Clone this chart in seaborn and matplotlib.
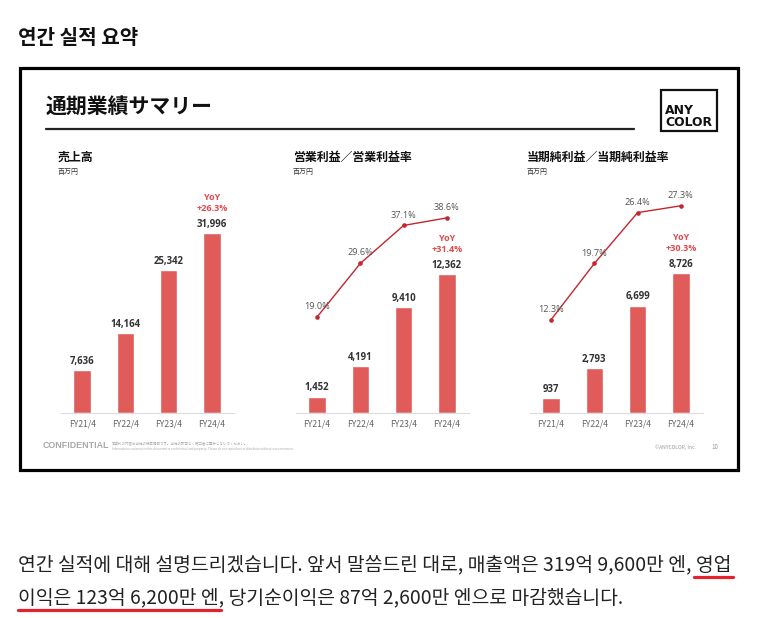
import numpy as np
import pandas as pd
import matplotlib
matplotlib.use("Agg")
import matplotlib.pyplot as plt
from matplotlib.patches import Rectangle
from matplotlib.lines import Line2D
import seaborn as sns

# ---------------- data ----------------
periods = ["FY21/4", "FY22/4", "FY23/4", "FY24/4"]
revenue = [7636, 14164, 25342, 31996]
operating_profit = [1452, 4191, 9410, 12362]
operating_margin = [19.0, 29.6, 37.1, 38.6]
net_profit = [937, 2793, 6699, 8726]
net_margin = [12.3, 19.7, 26.4, 27.3]
yoy_growth = [26.3, 31.4, 30.3]
panel_titles = ["売上高", "営業利益／営業利益率", "当期純利益／当期純利益率"]
unit_label = "百万円"
page_heading = "연간 실적 요약"
slide_title = "通期業績サマリー"
para_line1 = "연간 실적에 대해 설명드리겠습니다. 앞서 말씀드린 대로, 매출액은 319억 9,600만 엔, 영업"
para_line2 = "이익은 123억 6,200만 엔, 당기순이익은 87억 2,600만 엔으로 마감했습니다."
underline2_text = "이익은 123억 6,200만 엔"
underline1_text = "영업"

# ---------------- style ----------------
W, H = 778, 618
BAR = "#E05C5A"
LINE = "#C4262E"
YOY = "#E0484C"
JP = ["Noto Sans CJK JP", "DejaVu Sans"]
KR = ["Noto Sans CJK KR", "DejaVu Sans"]
NUM = ["Open Sans", "DejaVu Sans"]

sns.set_theme(style="white")
plt.rcParams["font.family"] = JP

fig = plt.figure(figsize=(W / 100, H / 100), dpi=100)
fig.patch.set_facecolor("white")


def fx(px):
    return px / W


def fy(py):
    return 1 - py / H


renderer = fig.canvas.get_renderer()


def text_width(s, size, **kw):
    t = fig.text(0, 0, s, fontsize=size, **kw)
    w = t.get_window_extent(renderer).width
    t.remove()
    return w


# page heading
fig.text(fx(18), fy(38), page_heading, family=KR, weight="bold",
         fontsize=14.5, va="center", ha="left", color="#111")

# slide frame
fig.patches.append(Rectangle((fx(20), fy(470)), fx(718), (470 - 68) / H,
                             transform=fig.transFigure, fill=False,
                             edgecolor="#000", linewidth=2.3))

fig.text(fx(46), fy(106), slide_title, weight="bold", fontsize=15,
         va="center", ha="left", color="#111")
fig.lines.append(Line2D([fx(46), fx(634)], [fy(129), fy(129)],
                        transform=fig.transFigure, color="#222", lw=1.6))

# logo
fig.patches.append(Rectangle((fx(661), fy(131.5)), fx(56), (131.5 - 90) / H,
                             transform=fig.transFigure, fill=False,
                             edgecolor="#111", linewidth=1.6))
fig.text(fx(665), fy(116.5), "ANY\nCOLOR", family=["DejaVu Sans"],
         weight="bold", fontsize=8.9, va="center", ha="left",
         linespacing=0.95, color="#111")

# ---------------- panels ----------------
panels = [
    dict(left=60.5, vals=revenue, ymax=40884, rate=None, rmax=None,
         title_x=58),
    dict(left=295.5, vals=operating_profit, ymax=20455,
         rate=operating_margin, rmax=45.5, title_x=293),
    dict(left=529.5, vals=net_profit, ymax=14336,
         rate=net_margin, rmax=30.3, title_x=527),
]

base_y = 413
ax_h = 230
ax_w = 173

for i, p in enumerate(panels):
    fig.text(fx(p["title_x"]), fy(157), panel_titles[i], weight="bold",
             fontsize=8.6, va="center", ha="left", color="#111")
    fig.text(fx(p["title_x"]), fy(172), unit_label, fontsize=5,
             va="center", ha="left", color="#333")

    ax = fig.add_axes([fx(p["left"]), fy(base_y), ax_w / W, ax_h / H])
    df = pd.DataFrame({"period": periods, "value": p["vals"]})
    sns.barplot(data=df, x="period", y="value", color=BAR, width=0.4,
                saturation=1, ax=ax)
    ax.set_xlim(-0.5, 3.5)
    ax.set_ylim(0, p["ymax"])
    ax.set_xlabel("")
    ax.set_ylabel("")
    ax.set_yticks([])
    for s in ["top", "right", "left"]:
        ax.spines[s].set_visible(False)
    ax.spines["bottom"].set_color("#dcdcdc")
    ax.spines["bottom"].set_linewidth(0.8)
    ax.tick_params(axis="x", length=0, pad=5, labelsize=6.2,
                   labelcolor="#666")
    ax.patch.set_alpha(0)
    ax.bar_label(ax.containers[0], labels=[f"{v:,}" for v in p["vals"]],
                 padding=2.3, fontsize=6.9, fontweight="bold", color="#333",
                 family=NUM)
    last = p["vals"][-1]
    ax.annotate(f"+{yoy_growth[i]}%", xy=(3, last), xytext=(0, 17.5),
                textcoords="offset points", ha="center", va="center",
                color=YOY, fontsize=6.5, fontweight="bold", family=NUM)
    ax.annotate("YoY", xy=(3, last), xytext=(0, 25.5),
                textcoords="offset points", ha="center", va="center",
                color=YOY, fontsize=6.5, fontweight="bold", family=NUM)

    if p["rate"] is not None:
        ax2 = ax.twinx()
        xs = np.arange(len(periods))
        sns.lineplot(x=xs, y=p["rate"], ax=ax2, color=LINE, linewidth=1.0,
                     marker="o", markersize=3.3, markeredgewidth=0)
        ax2.set_ylim(0, p["rmax"])
        ax2.set_xlim(-0.5, 3.5)
        ax2.set_yticks([])
        ax2.set_ylabel("")
        for s in ax2.spines.values():
            s.set_visible(False)
        for xv, rv in zip(xs, p["rate"]):
            ax2.annotate(f"{rv:.1f}%", xy=(xv, rv), xytext=(0, 7.5),
                         textcoords="offset points", ha="center",
                         va="center", fontsize=6.6, color="#555",
                         family=NUM)

# footer
fig.text(fx(43), fy(446), "CONFIDENTIAL", family=["Liberation Sans"],
         weight="bold", fontsize=6.4, color="#aaaaaa", va="center")
fig.text(fx(112), fy(444),
         "本資料の内容は当社の機密情報です。当社の許可なく第三者に開示しないでください。",
         fontsize=2.5, color="#aaa", va="center")
fig.text(fx(112), fy(449),
         "Information contained in this document is confidential and property. "
         "Please do not reproduce or distribute without our permission.",
         fontsize=2.2, color="#aaa", va="center")
fig.text(fx(655), fy(447), "©ANYCOLOR, Inc.", fontsize=3.6, color="#999",
         va="center")
fig.text(fx(711), fy(447), "10", fontsize=4.5, color="#999", va="center")

# paragraph (fit first line to its measured width)
base_size = 12
w1 = text_width(para_line1, base_size, family=KR)
size = base_size * 716 / w1
x0 = 18
fig.text(fx(x0), fy(565), para_line1, family=KR, fontsize=size,
         color="#222", va="center", ha="left")
fig.text(fx(x0), fy(598), para_line2, family=KR, fontsize=size,
         color="#222", va="center", ha="left")

full1 = text_width(para_line1, size, family=KR)
ul1 = text_width(underline1_text, size, family=KR)
ul2 = text_width(underline2_text, size, family=KR)
RED = "#E5222B"
fig.lines.append(Line2D([fx(x0 + full1 - ul1 - 2), fx(x0 + full1 + 2)],
                        [fy(577), fy(577)], transform=fig.transFigure,
                        color=RED, lw=2.3, solid_capstyle="round"))
fig.lines.append(Line2D([fx(x0), fx(x0 + ul2 + 2)],
                        [fy(610), fy(610)], transform=fig.transFigure,
                        color=RED, lw=2.3, solid_capstyle="round"))

fig.savefig("out.png", dpi=100, facecolor="white")
